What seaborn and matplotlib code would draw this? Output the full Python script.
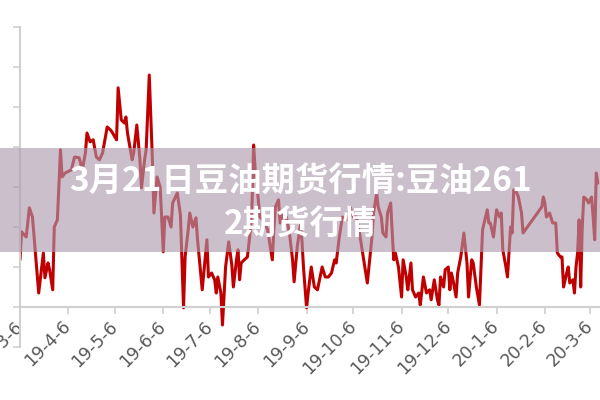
import pandas as pd
import matplotlib
matplotlib.use("Agg")
import matplotlib.pyplot as plt
import seaborn as sns
from matplotlib.patches import Rectangle

# --- Data ---
START_DATE = "2019-03-06"

# trading days, counted from START_DATE
days = [
    0, 1, 4, 6, 8, 12, 15, 16, 18, 19, 21, 22, 24, 26, 27, 29, 33, 35, 38, 40,
    42, 43, 45, 47, 49, 51, 53, 56, 58, 59, 61, 62, 63, 65, 67, 68, 69, 72, 73, 75,
    77, 78, 80, 81, 83, 85, 86, 88, 90, 92, 93, 95, 97, 98, 101, 103, 105, 106, 108, 109,
    111, 113, 114, 117, 120, 121, 123, 125, 126, 127, 129, 130, 132, 134, 136, 137, 139, 140, 141, 142,
    144, 146, 148, 149, 150, 151, 153, 154, 156, 159, 160, 162, 163, 164, 166, 167, 169, 171, 173, 175,
    176, 178, 180, 181, 182, 184, 185, 187, 189, 191, 194, 196, 198, 200, 202, 203, 204, 205, 207, 210,
    212, 214, 216, 218, 220, 223, 225, 226, 227, 229, 230, 232, 233, 235, 236, 238, 239, 240, 241, 243,
    245, 246, 248, 249, 251, 252, 254, 256, 257, 259, 261, 263, 264, 266, 268, 269, 270, 272, 273, 275,
    276, 277, 278, 280, 281, 283, 285, 287, 288, 290, 291, 293, 295, 296, 297, 300, 301, 302, 303, 304,
    306, 308, 309, 310, 312, 313, 315, 316, 317, 319, 320, 322, 323, 335, 336, 337, 338, 340, 342, 344,
    345, 347, 348, 349, 351, 352, 353, 355, 356, 357, 358, 359, 360, 361, 362, 364, 365, 367, 368, 369,
    370, 371,
]

prices = [
    5618, 5688, 5675, 5748, 5725, 5535, 5635, 5573, 5610, 5593, 5543, 5700, 5718, 5893, 5825, 5835, 5843, 5875, 5873, 5843,
    5885, 5935, 5913, 5918, 5875, 5868, 5885, 5950, 5943, 5938, 5925, 5918, 6048, 5968, 5960, 5975, 5935, 5868, 5885, 5955,
    5868, 5798, 5868, 5893, 6080, 5868, 5735, 5825, 5800, 5638, 5725, 5725, 5700, 5760, 5785, 5730, 5498, 5625, 5693, 5735,
    5700, 5723, 5668, 5543, 5668, 5575, 5585, 5568, 5535, 5575, 5535, 5455, 5600, 5663, 5605, 5550, 5618, 5643, 5568, 5610,
    5618, 5625, 5693, 5760, 5905, 5843, 5768, 5725, 5718, 5693, 5668, 5618, 5693, 5750, 5768, 5710, 5735, 5725, 5685, 5618,
    5563, 5650, 5705, 5668, 5600, 5498, 5535, 5600, 5550, 5543, 5600, 5575, 5575, 5585, 5618, 5610, 5643, 5675, 5725, 5718,
    5750, 5725, 5725, 5685, 5635, 5560, 5635, 5675, 5735, 5785, 5750, 5725, 5685, 5675, 5735, 5760, 5685, 5618, 5635, 5600,
    5525, 5618, 5575, 5543, 5610, 5543, 5525, 5535, 5505, 5575, 5535, 5543, 5518, 5568, 5518, 5505, 5575, 5550, 5593, 5600,
    5543, 5585, 5568, 5525, 5585, 5625, 5685, 5610, 5525, 5618, 5610, 5550, 5505, 5600, 5693, 5743, 5710, 5710, 5693, 5675,
    5743, 5725, 5735, 5643, 5600, 5575, 5700, 5685, 5793, 5785, 5775, 5735, 5685, 5750, 5775, 5760, 5725, 5735, 5710, 5710,
    5635, 5625, 5625, 5550, 5585, 5600, 5560, 5568, 5535, 5600, 5635, 5718, 5550, 5700, 5775, 5768, 5760, 5775, 5725, 5668,
    5835, 5810,
]

tick_labels = ["19-3-6", "19-4-6", "19-5-6", "19-6-6", "19-7-6", "19-8-6", "19-9-6",
               "19-10-6", "19-11-6", "19-12-6", "20-1-6", "20-2-6", "20-3-6"]
y_ticks = [5400, 5500, 5600, 5700, 5800, 5900, 6000, 6100, 6200]

title_line1 = "3月21日豆油期货行情:豆油261"
title_line2 = "2期货行情"

assert len(days) == len(prices)

# --- Style ---
sns.set_theme(style="white")
plt.rcParams['font.family'] = ['DejaVu Sans', 'Noto Sans CJK SC']

df = pd.DataFrame({
    "date": pd.Timestamp(START_DATE) + pd.to_timedelta(days, unit="D"),
    "price": prices,
})
tick_dates = pd.to_datetime(tick_labels, format="%y-%m-%d")

fig = plt.figure(figsize=(6, 4), dpi=100)
ax = fig.add_axes([20 / 600, 1 - 347 / 400, 580 / 600, 320 / 400])

sns.lineplot(data=df, x="date", y="price", color="#c00000", linewidth=2.2, ax=ax)

ax.set_xlim(pd.Timestamp(START_DATE), pd.Timestamp(START_DATE) + pd.Timedelta(days=372.4))
ax.set_ylim(y_ticks[0], y_ticks[-1])
ax.set_xlabel("")
ax.set_ylabel("")

ax.spines['top'].set_visible(False)
ax.spines['right'].set_visible(False)
for side in ['left', 'bottom']:
    ax.spines[side].set_color("#d0d0d0")
    ax.spines[side].set_linewidth(1.5)
ax.spines['bottom'].set_position(('data', 5500))

ax.set_yticks(y_ticks)
ax.tick_params(axis='y', which='both', left=True, length=5, width=1.2,
               color="#d0d0d0", labelleft=False)

ax.set_xticks(tick_dates)
ax.set_xticklabels(tick_labels)
ax.tick_params(axis='x', which='both', bottom=True, length=5, width=1.2,
               color="#d0d0d0", pad=7, labelsize=12.5, labelcolor="#595959")
for lbl in ax.get_xticklabels():
    lbl.set_rotation(45)
    lbl.set_rotation_mode('anchor')
    lbl.set_ha('right')
    lbl.set_va('center')

ax.grid(False)

# --- Overlay band with title ---
band = Rectangle((0, 1 - 252 / 400), 1, 104 / 400, transform=fig.transFigure,
                 facecolor=(171 / 255, 153 / 255, 174 / 255), alpha=0.62,
                 edgecolor="none", zorder=10)
fig.add_artist(band)

title_font = ['Noto Sans CJK SC', 'DejaVu Sans']
fig.text(0.5, 1 - 181 / 400, title_line1, ha='center', va='center', color='white',
         fontsize=24, fontweight='bold', family=title_font, zorder=11)
fig.text(0.5, 1 - 224 / 400, title_line2, ha='center', va='center', color='white',
         fontsize=24, fontweight='bold', family=title_font, zorder=11)

fig.savefig("out.png", dpi=100)
plt.close(fig)
